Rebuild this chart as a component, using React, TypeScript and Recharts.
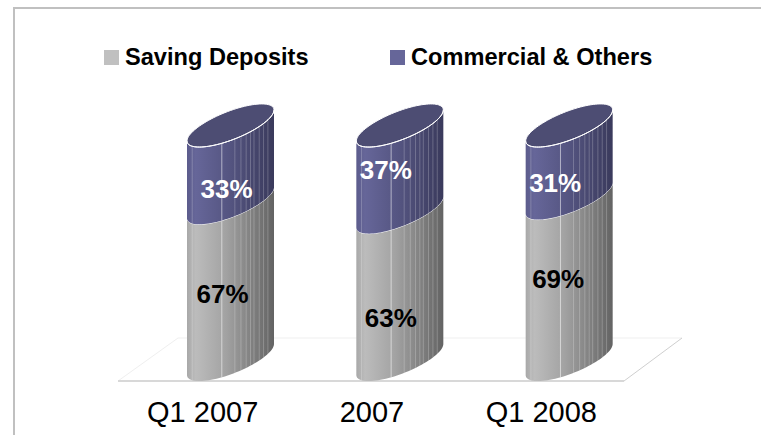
import React from "react";
import { BarChart, Bar, XAxis, YAxis, Legend, LabelList } from "recharts";

const categories = ["Q1 2007", "2007", "Q1 2008"];
const savingDeposits = [67, 63, 69];
const commercialOthers = [33, 37, 31];
const seriesNames = ["Saving Deposits", "Commercial & Others"];

const labelShiftX = { saving: [-8, -9, -11], commercial: [-4, -14, -14] };
const labelShiftY = { saving: [-3, 17, -15], commercial: [9, -14, 6] };
const facets = [0.06, 0.4, 0.55, 0.62, 0.68, 0.73, 0.77, 0.83, 0.88, 0.93];

const data = categories.map((name, i) => ({
  name,
  saving: savingDeposits[i],
  commercial: commercialOthers[i],
}));

const SLOPE = 31 / 87;
const MINOR = 15;

function frontY(px: number, x: number, w: number, yLeft: number) {
  const a = w / 2;
  const c = (px - (x + a)) / a;
  const cy = yLeft - SLOPE * a;
  return cy - SLOPE * a * c + MINOR * Math.sqrt(Math.max(0, 1 - c * c));
}

function frontCurve(x: number, w: number, yLeft: number, reverse = false) {
  const pts: string[] = [];
  for (let i = 0; i <= 48; i++) {
    const t = (Math.PI * i) / 48;
    const px = x + w / 2 - (w / 2) * Math.cos(t);
    const py = frontY(px, x, w, yLeft);
    pts.push(`${px.toFixed(2)},${py.toFixed(2)}`);
  }
  if (reverse) pts.reverse();
  return pts;
}

function Cylinder(props: any) {
  const { x, y, width, height, gradient, cap } = props;
  const top = frontCurve(x, width, y);
  const bottom = frontCurve(x, width, y + height, true);
  const a = width / 2;
  const cy = y - SLOPE * a;
  const capPts: string[] = [];
  for (let i = 0; i < 96; i++) {
    const t = (2 * Math.PI * i) / 96;
    capPts.push(
      `${(x + a + a * Math.cos(t)).toFixed(2)},${(cy - SLOPE * a * Math.cos(t) + MINOR * Math.sin(t)).toFixed(2)}`
    );
  }
  return (
    <g>
      <polygon points={[...top, ...bottom].join(" ")} fill={`url(#${gradient})`} />
      {facets.map((f) => {
        const px = x + width * f;
        return (
          <line
            key={f}
            x1={px}
            x2={px}
            y1={frontY(px, x, width, y)}
            y2={frontY(px, x, width, y + height)}
            stroke="#fff"
            strokeOpacity={f === 0.4 ? 0.55 : 0.22}
            strokeWidth={1}
          />
        );
      })}
      {cap && <polygon points={capPts.join(" ")} fill="#4d4d73" stroke="#fff" strokeWidth={1} />}
      <polyline points={top.join(" ")} fill="none" stroke="#fff" strokeWidth={1} />
    </g>
  );
}

function makeLabel(series: "saving" | "commercial", color: string) {
  return (p: any) => (
    <text
      x={p.x + p.width / 2 + labelShiftX[series][p.index]}
      y={p.y + p.height / 2 + labelShiftY[series][p.index]}
      textAnchor="middle"
      dominantBaseline="central"
      fill={color}
      fontSize={26}
      fontWeight="bold"
      fontFamily="'Liberation Sans', Arial, sans-serif"
    >
      {p.value}%
    </text>
  );
}

function Decor() {
  return (
    <g>
      <polyline points="14,435 14,8 761,8" fill="none" stroke="#c0c0c0" strokeWidth={2} />
      <polygon points="118,381 178,338 682,338 624,381" fill="#fff" stroke="none" />
      <line x1={178} y1={338} x2={682} y2={338} stroke="#efefef" />
      <line x1={178} y1={338} x2={118} y2={381} stroke="#efefef" />
      <line x1={682} y1={338} x2={624} y2={381} stroke="#cfcfcf" />
      <line x1={118} y1={381} x2={624} y2={381} stroke="#d8d8d8" strokeWidth={2} />
    </g>
  );
}

function Tick(p: any) {
  return (
    <text
      x={p.x - 28}
      y={p.y + 39}
      textAnchor="middle"
      fill="#000"
      fontSize={29}
      fontFamily="'Liberation Sans', Arial, sans-serif"
    >
      {p.payload.value}
    </text>
  );
}

function LegendBox({ payload }: any) {
  const items = [...(payload || [])].sort(
    (a: any, b: any) => seriesNames.indexOf(a.value) - seriesNames.indexOf(b.value)
  );
  return (
    <div style={{ position: "relative", height: 0, fontFamily: "'Liberation Sans', Arial, sans-serif" }}>
      {items.map((e: any, i: number) => (
        <div
          key={e.value}
          style={{
            position: "absolute",
            left: i === 0 ? 104 : 390,
            top: 0,
            display: "flex",
            alignItems: "center",
            whiteSpace: "nowrap",
            fontWeight: "bold",
            fontSize: 23.6,
            color: "#000",
          }}
        >
          <span style={{ width: 15, height: 15, background: e.color, marginRight: 6, display: "inline-block" }} />
          {e.value}
        </div>
      ))}
    </div>
  );
}

export default function App() {
  return (
    <div style={{ position: "absolute", left: 0, top: 0, width: 761, height: 435, background: "#fff" }}>
      <BarChart
        width={761}
        height={435}
        data={data}
        margin={{ top: 141, right: 107, bottom: 30, left: 146 }}
      >
        <defs>
          <linearGradient id="gGray" x1="0" x2="1" y1="0" y2="0">
            <stop offset="0" stopColor="#a8a8a8" />
            <stop offset="0.1" stopColor="#bcbcbc" />
            <stop offset="0.45" stopColor="#a2a2a2" />
            <stop offset="1" stopColor="#636363" />
          </linearGradient>
          <linearGradient id="gPurple" x1="0" x2="1" y1="0" y2="0">
            <stop offset="0" stopColor="#5c5c8c" />
            <stop offset="0.1" stopColor="#666699" />
            <stop offset="0.5" stopColor="#545480" />
            <stop offset="1" stopColor="#3a3a5c" />
          </linearGradient>
        </defs>
        <Decor />
        <XAxis dataKey="name" axisLine={false} tickLine={false} height={30} tick={<Tick />} interval={0} />
        <YAxis hide domain={[0, 100]} />
        <Legend
          verticalAlign="top"
          content={<LegendBox />}
          wrapperStyle={{ position: "absolute", top: 44, left: 0, width: 761 }}
        />
        <Bar
          dataKey="saving"
          name="Saving Deposits"
          stackId="a"
          fill="#c0c0c0"
          barSize={87}
          isAnimationActive={false}
          shape={(p: any) => <Cylinder {...p} gradient="gGray" />}
        >
          <LabelList dataKey="saving" content={makeLabel("saving", "#000")} />
        </Bar>
        <Bar
          dataKey="commercial"
          name="Commercial & Others"
          stackId="a"
          fill="#666699"
          barSize={87}
          isAnimationActive={false}
          shape={(p: any) => <Cylinder {...p} gradient="gPurple" cap />}
        >
          <LabelList dataKey="commercial" content={makeLabel("commercial", "#fff")} />
        </Bar>
      </BarChart>
    </div>
  );
}
